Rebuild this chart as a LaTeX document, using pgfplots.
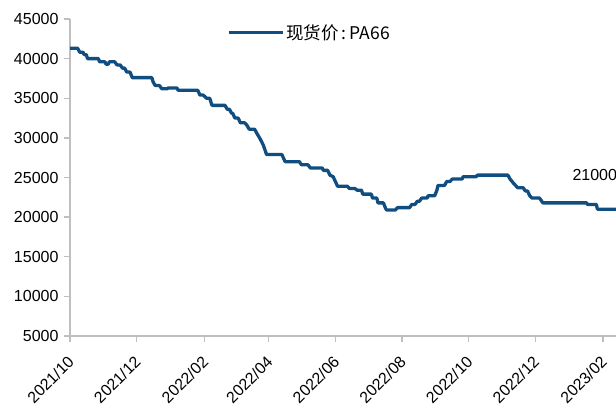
\documentclass[border=0pt]{standalone}
\usepackage{pgfplots}
\pgfplotsset{compat=1.18}
\usepackage{fontspec}
\setmainfont{Liberation Sans}
\newfontfamily\cjk{Noto Sans CJK SC}
\definecolor{lineblue}{RGB}{16,77,128}
\definecolor{axgray}{RGB}{191,191,191}
\begin{document}
\begin{tikzpicture}
\begin{axis}[
  scale only axis,
  width=546bp, height=317bp,
  xmin=0, xmax=500,
  ymin=5000, ymax=45000,
  axis x line*=bottom,
  axis y line*=left,
  axis line style={axgray, line width=1.3pt},
  tick style={axgray, line width=1.3pt},
  major tick length=6bp,
  tick align=outside,
  xtick={0,61,123,182,243,304,365,426,488},
  xticklabels={2021/10,2021/12,2022/02,2022/04,2022/06,2022/08,2022/10,2022/12,2023/02},
  x tick label style={rotate=45, anchor=north east, font=\fontsize{16bp}{18bp}\selectfont, xshift=-8bp, yshift=-3.5bp},
  ytick={5000,10000,15000,20000,25000,30000,35000,40000,45000},
  y tick label style={font=\fontsize{16bp}{18bp}\selectfont, xshift=-2bp},
  /pgf/number format/assume math mode=true,
  /pgf/number format/1000 sep={},
  scaled y ticks=false,
  legend style={draw=none, fill=none, at={(axis cs:141,43300)}, anchor=west, font=\cjk\fontsize{17.5bp}{19bp}\selectfont},
  legend image code/.code={\draw[#1, line width=3.2pt] (0bp,0bp) -- (54bp,0bp);},
  clip=true,
]
\addplot[lineblue, line width=3.3pt, line join=round] coordinates {
(0,41300)(7,41300)(9,40800)(12,40800)(13,40500)(15,40500)(16,40000)(26,40000)(27,39600)(32,39600)(33,39300)(35,39300)(36,39600)(41,39600)(43,39200)(46,39200)(48,38800)(50,38800)(52,38300)(55,38300)(57,37600)(75,37600)(76,37100)(78,36600)(82,36600)(84,36200)(89,36200)(90,36300)(98,36300)(99,36000)(117,36000)(119,35400)(122,35400)(125,35000)(128,35000)(130,34100)(142,34100)(144,33600)(146,33600)(148,33100)(149,33100)(151,32500)(154,32500)(156,31900)(160,31900)(162,31600)(164,31100)(169,31100)(171,30600)(174,29900)(177,29100)(180,27900)(194,27900)(197,27000)(210,27000)(212,26600)(218,26600)(220,26200)(231,26200)(232,25900)(236,25900)(238,25300)(241,25100)(243,24500)(245,23900)(254,23900)(256,23600)(261,23600)(263,23400)(267,23400)(268,22900)(276,22900)(277,22400)(281,22400)(282,21800)(287,21800)(289,21100)(290,20900)(298,20900)(300,21200)(311,21200)(313,21600)(316,21600)(318,22000)(320,22000)(322,22400)(327,22400)(328,22700)(334,22700)(336,23400)(337,24000)(343,24000)(345,24500)(348,24500)(350,24800)(359,24800)(360,25100)(372,25100)(373,25300)(401,25300)(403,24800)(406,24300)(410,23700)(415,23700)(417,23300)(419,23300)(421,22700)(423,22400)(430,22400)(432,22000)(433,21800)(473,21800)(474,21600)(482,21600)(483,21000)(505,21000)
};
\addlegendentry{现货价\,:\,PA66}
\node[overlay, anchor=west, inner sep=0pt, font=\fontsize{16bp}{18bp}\selectfont] at (axis cs:460,25300) {21000};
\end{axis}
\pgfresetboundingbox
\useasboundingbox (-70bp,-71bp) rectangle (546bp,336bp);
\end{tikzpicture}
\end{document}
